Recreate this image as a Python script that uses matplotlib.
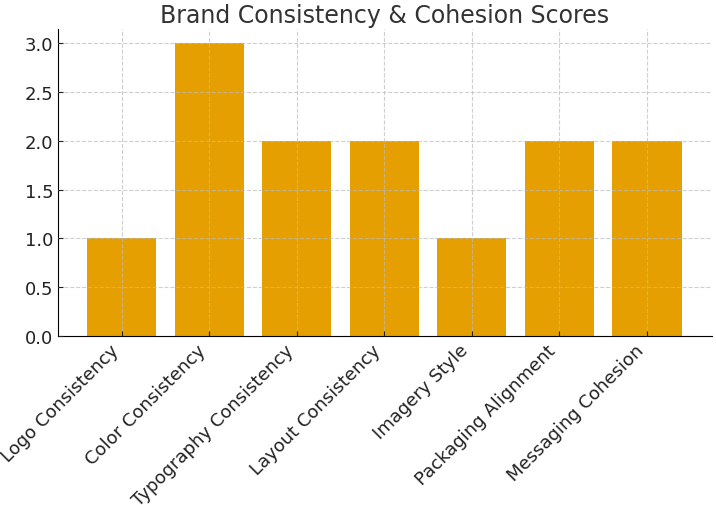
import matplotlib
matplotlib.use("Agg")
import matplotlib.pyplot as plt

categories = [
    "Logo Consistency",
    "Color Consistency",
    "Typography Consistency",
    "Layout Consistency",
    "Imagery Style",
    "Packaging Alignment",
    "Messaging Cohesion",
]
scores = [1, 3, 2, 2, 1, 2, 2]

fig, ax = plt.subplots(figsize=(7.16, 5.06), dpi=100)
ax.bar(categories, scores, color="#E69F00", width=0.79, zorder=1)
ax.set_title("Brand Consistency & Cohesion Scores", fontsize=17, color="#333333", pad=5)
ax.set_ylim(0, 3.15)
ax.set_xlim(-0.73, 6.74)
ax.set_yticks([0, 0.5, 1.0, 1.5, 2.0, 2.5, 3.0])
ax.tick_params(axis="both", direction="in", labelsize=13, colors="#222222")
plt.setp(ax.get_xticklabels(), rotation=45, ha="right")
ax.grid(True, linestyle="--", color="#bbbbbb", alpha=0.7, linewidth=0.8, zorder=2)
ax.set_axisbelow(False)
for side in ("top", "right"):
    ax.spines[side].set_visible(False)
fig.subplots_adjust(left=0.081, right=0.994, top=0.941, bottom=0.334)
fig.savefig("out.png")
